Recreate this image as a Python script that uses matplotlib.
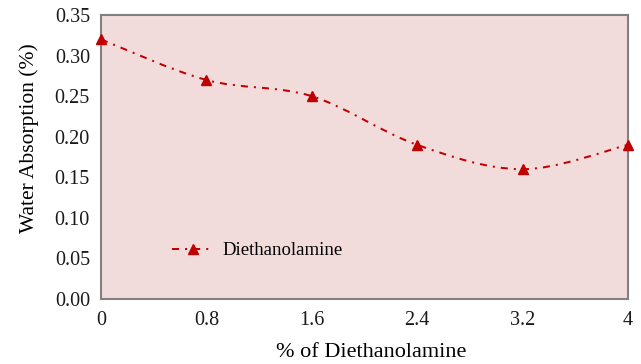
import numpy as np
import matplotlib.pyplot as plt
from matplotlib.path import Path
from matplotlib.patches import PathPatch
from matplotlib.lines import Line2D

plt.rcParams['font.family'] = ['Liberation Serif', 'DejaVu Serif']

dea = [0, 0.8, 1.6, 2.4, 3.2, 4]
absorption = [0.32, 0.27, 0.25, 0.19, 0.16, 0.19]
xticks = [0, 0.8, 1.6, 2.4, 3.2, 4]
xticklabels = ['0', '0.8', '1.6', '2.4', '3.2', '4']

red = '#C00000'
fill = '#F2DCDB'


def smooth_path(xs, ys):
    # Catmull-Rom style bezier through the points (like a spreadsheet "smoothed line")
    p = np.column_stack([xs, ys])
    n = len(p)
    verts = [p[0]]
    codes = [Path.MOVETO]
    for i in range(n - 1):
        p0 = p[i - 1] if i > 0 else p[i]
        p3 = p[i + 2] if i + 2 < n else p[i + 1]
        c1 = p[i] + (p[i + 1] - p0) / 6
        c2 = p[i + 1] - (p3 - p[i]) / 6
        verts += [c1, c2, p[i + 1]]
        codes += [Path.CURVE4] * 3
    return Path(verts, codes)


fig = plt.figure(figsize=(6.41, 3.64), dpi=100)
ax = fig.add_axes([0.1576, 0.1786, 0.822, 0.780])
ax.set_facecolor(fill)

lw = 1.45
dash = (0, (3.5, 3.0, 1.0, 3.0))
ax.add_patch(PathPatch(smooth_path(dea, absorption), fill=False,
                       edgecolor=red, lw=lw, linestyle=dash, zorder=2))
ax.plot(dea, absorption, linestyle='none', marker='^', ms=6.5,
        color=red, clip_on=False, zorder=3)

ax.set_xlim(0, 4)
ax.set_ylim(0, 0.35)
ax.set_xticks(xticks)
ax.set_xticklabels(xticklabels)
ax.set_yticks(np.arange(0, 0.351, 0.05))
ax.set_yticklabels([f'{v:.2f}' for v in np.arange(0, 0.351, 0.05)])
ax.tick_params(length=0, labelsize=14.5, colors='#1a1a1a')
ax.tick_params(axis='x', pad=9)
ax.tick_params(axis='y', pad=8)

for s in ax.spines.values():
    s.set_color('#808080')
    s.set_linewidth(1.5)

ax.set_xlabel('% of Diethanolamine', fontsize=16)
ax.set_ylabel('Water Absorption (%)', fontsize=15.5)
ax.xaxis.set_label_coords(0.512, -0.156)
ax.yaxis.set_label_coords(-0.117, 0.567)

handle = Line2D([], [], color=red, lw=lw, linestyle=dash, marker='^', ms=6.5)
ax.legend([handle], ['Diethanolamine'], loc='center left',
          bbox_to_anchor=(0.135, 0.17), frameon=False, fontsize=13.5,
          borderpad=0, borderaxespad=0,
          handlelength=2.2, handletextpad=0.5)

fig.savefig('out.png', dpi=100)
